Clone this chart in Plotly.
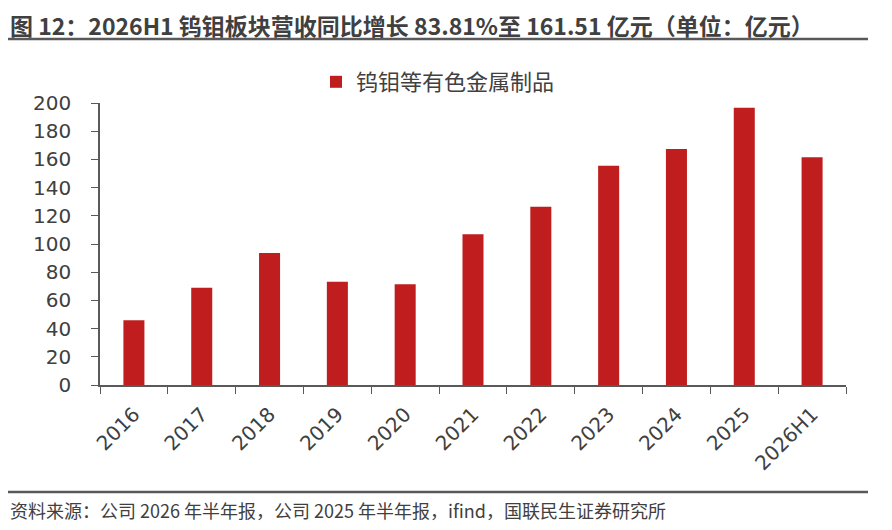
import plotly.graph_objects as go

# Data (unit: 亿元)
categories = ["2016", "2017", "2018", "2019", "2020", "2021",
              "2022", "2023", "2024", "2025", "2026H1"]
revenue = [46.0, 68.9, 93.7, 73.3, 71.5, 107.0, 126.4, 155.5, 167.3, 196.7, 161.51]
series_name = "钨钼等有色金属制品"

title_text = "图 12：2026H1 钨钼板块营收同比增长 83.81%至 161.51 亿元（单位：亿元）"
source_text = "资料来源：公司 2026 年半年报，公司 2025 年半年报，ifind，国联民生证券研究所"

FONT = "Noto Sans CJK SC"
NUM_FONT = "DejaVu Sans, Noto Sans CJK SC"
GREY = "#404040"
RED = "#C01E1E"

# plot area in page pixels (page has an 8px body margin)
PX_L, PX_R, PX_T, PX_B = 100, 846, 103, 385
PW, PH = PX_R - PX_L, PX_B - PX_T


def px_x(x):
    return (x - PX_L) / PW


def px_y(y):
    return (PX_B - y) / PH


fig = go.Figure()
fig.add_trace(go.Bar(
    x=categories, y=revenue, name=series_name,
    marker=dict(color=RED, line=dict(width=0)),
))

fig.update_layout(
    width=884, height=522,
    margin=dict(l=PX_L - 8, r=892 - PX_R, t=PX_T - 8, b=530 - PX_B),
    paper_bgcolor="white", plot_bgcolor="white",
    font=dict(family=FONT, color=GREY, size=15),
    bargap=0.69,
    showlegend=True,
    legend=dict(
        orientation="h", x=px_x(438), xanchor="center", y=px_y(82), yanchor="middle",
        font=dict(size=22, color=GREY), itemwidth=30,
    ),
    xaxis=dict(
        showline=True, linecolor="#595959", linewidth=1.5,
        ticks="outside", ticklen=7, tickcolor="#595959",
        tickson="boundaries", tickangle=-45, ticklabelstandoff=8,
        tickfont=dict(size=20, color=GREY, family=NUM_FONT),
    ),
    yaxis=dict(
        range=[0, 200], dtick=20,
        showline=True, linecolor="#595959", linewidth=1.5,
        ticks="outside", ticklen=7, tickcolor="#595959", ticklabelstandoff=16,
        showgrid=False, zeroline=False,
        tickfont=dict(size=20, color=GREY, family=NUM_FONT),
    ),
)

# title with underline
fig.add_annotation(
    text="<b>" + title_text + "</b>", xref="paper", yref="paper",
    x=px_x(9), y=px_y(25), xanchor="left", yanchor="middle",
    showarrow=False, borderpad=0, font=dict(size=23, color=GREY, family=FONT),
)
fig.add_shape(type="line", xref="paper", yref="paper",
              x0=px_x(5), x1=px_x(868), y0=px_y(39), y1=px_y(39),
              line=dict(color="#595959", width=2.5))

# bottom rule and source note
fig.add_shape(type="line", xref="paper", yref="paper",
              x0=px_x(5), x1=px_x(868), y0=px_y(492), y1=px_y(492),
              line=dict(color="#595959", width=2.5))
fig.add_annotation(
    text=source_text, xref="paper", yref="paper",
    x=px_x(8), y=px_y(510), xanchor="left", yanchor="middle",
    showarrow=False, font=dict(size=18, color=GREY, family=FONT),
)

fig.write_html("out.html")
